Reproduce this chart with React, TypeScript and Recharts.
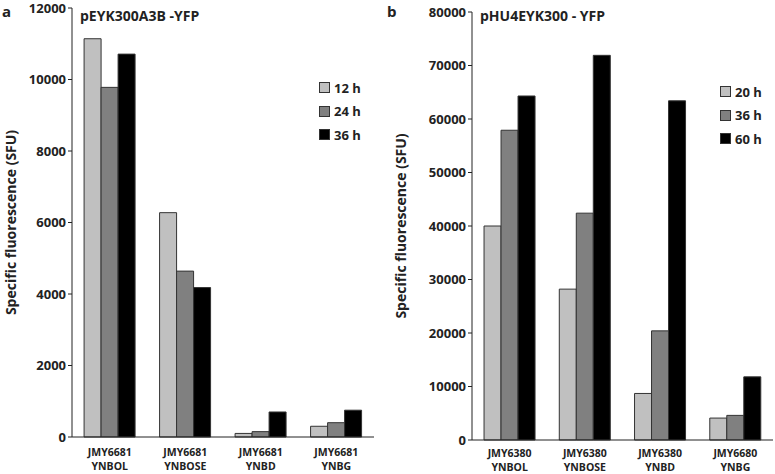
import { BarChart, Bar, XAxis, YAxis } from "recharts";

const strainsA = ["JMY6681|YNBOL", "JMY6681|YNBOSE", "JMY6681|YNBD", "JMY6681|YNBG"];
const a12h = [11140, 6275, 100, 300];
const a24h = [9780, 4640, 150, 400];
const a36h = [10710, 4180, 700, 750];
const ticksA = [0, 2000, 4000, 6000, 8000, 10000, 12000];

const strainsB = ["JMY6380|YNBOL", "JMY6380|YNBOSE", "JMY6380|YNBD", "JMY6680|YNBG"];
const b20h = [40000, 28200, 8700, 4100];
const b36h = [57900, 42400, 20400, 4600];
const b60h = [64300, 71900, 63400, 11800];
const ticksB = [0, 10000, 20000, 30000, 40000, 50000, 60000, 70000, 80000];

const FONT = "'Open Sans', 'DejaVu Sans', sans-serif";
const COLORS = ["#c0c0c0", "#808080", "#000000"];

const dataA = strainsA.map((s, i) => ({ name: s, s1: a12h[i], s2: a24h[i], s3: a36h[i] }));
const dataB = strainsB.map((s, i) => ({ name: s, s1: b20h[i], s2: b36h[i], s3: b60h[i] }));

function TwoLineTick(props: any) {
  const { x, payload, line1Y, line2Y } = props;
  const [l1, l2] = String(payload.value).split("|");
  return (
    <g>
      <text x={x} y={line1Y} textAnchor="middle" fontFamily={FONT} fontSize={10.5} fontWeight={700} fill="#222">
        {l1}
      </text>
      <text x={x} y={line2Y} textAnchor="middle" fontFamily={FONT} fontSize={10.5} fontWeight={700} fill="#222">
        {l2}
      </text>
    </g>
  );
}

function LegendBox({ labels, left, top }: { labels: string[]; left: number; top: number }) {
  return (
    <div style={{ position: "absolute", left, top, fontFamily: FONT, fontWeight: 700, fontSize: 13, color: "#222" }}>
      {labels.map((l, i) => (
        <div key={l} style={{ display: "flex", alignItems: "center", height: 23.5 }}>
          <span
            style={{
              display: "inline-block",
              width: 9,
              height: 9,
              background: COLORS[i],
              border: "1px solid #333",
              marginRight: 4,
            }}
          />
          {l}
        </div>
      ))}
    </div>
  );
}

interface PanelProps {
  data: any[];
  ticks: number[];
  max: number;
  labels: string[];
  title: string;
  letter: string;
  width: number;
  margin: { top: number; right: number; left: number; bottom: number };
  xHeight: number;
  tickLines: [number, number];
  legendPos: { left: number; top: number };
  labelX: number;
  titleX: number;
}

function Panel(p: PanelProps) {
  const plotTop = p.margin.top;
  const plotBottom = 474 - p.xHeight;
  const midY = (plotTop + plotBottom) / 2;
  return (
    <div style={{ position: "relative", width: p.width, height: 474 }}>
      <BarChart width={p.width} height={474} data={p.data} margin={p.margin} barCategoryGap="16%" barGap={0}>
        <XAxis
          dataKey="name"
          height={p.xHeight}
          tick={<TwoLineTick line1Y={p.tickLines[0]} line2Y={p.tickLines[1]} />}
          tickLine={false}
          axisLine={{ stroke: "#222" }}
          interval={0}
        />
        <YAxis
          domain={[0, p.max]}
          ticks={p.ticks}
          width={60}
          tickLine={{ stroke: "#222" }}
          tickSize={4}
          axisLine={{ stroke: "#222" }}
          tick={{ fontFamily: FONT, fontSize: 13, fontWeight: 700, fill: "#222" }}
          interval={0}
        />
        {["s1", "s2", "s3"].map((k, i) => (
          <Bar key={k} dataKey={k} fill={COLORS[i]} stroke="#333" strokeWidth={1} isAnimationActive={false} />
        ))}
        <text x={2} y={17} fontFamily={FONT} fontSize={15} fontWeight={700} fill="#222">
          {p.letter}
        </text>
        <text x={p.titleX} y={21} fontFamily={FONT} fontSize={14} fontWeight={700} fill="#222">
          {p.title}
        </text>
        <text
          x={p.labelX}
          y={midY}
          transform={`rotate(-90 ${p.labelX} ${midY})`}
          textAnchor="middle"
          dominantBaseline="middle"
          fontFamily={FONT}
          fontSize={14}
          fontWeight={700}
          fill="#222"
        >
          Specific fluorescence (SFU)
        </text>
      </BarChart>
      <LegendBox labels={p.labels} left={p.legendPos.left} top={p.legendPos.top} />
    </div>
  );
}

export default function App() {
  return (
    <div style={{ position: "absolute", left: 0, top: 0, width: 775, height: 474, background: "#fff", display: "flex" }}>
      <Panel
        data={dataA}
        ticks={ticksA}
        max={12000}
        labels={["12 h", "24 h", "36 h"]}
        title="pEYK300A3B -YFP"
        letter="a"
        width={385}
        margin={{ top: 8, right: 11, left: 12, bottom: 0 }}
        xHeight={37}
        tickLines={[456, 470]}
        legendPos={{ left: 319, top: 76 }}
        labelX={12}
        titleX={80}
      />
      <Panel
        data={dataB}
        ticks={ticksB}
        max={80000}
        labels={["20 h", "36 h", "60 h"]}
        title="pHU4EYK300 - YFP"
        letter="b"
        width={390}
        margin={{ top: 12, right: 2, left: 27, bottom: 0 }}
        xHeight={34}
        tickLines={[457, 471]}
        legendPos={{ left: 335, top: 80 }}
        labelX={17}
        titleX={95}
      />
    </div>
  );
}
